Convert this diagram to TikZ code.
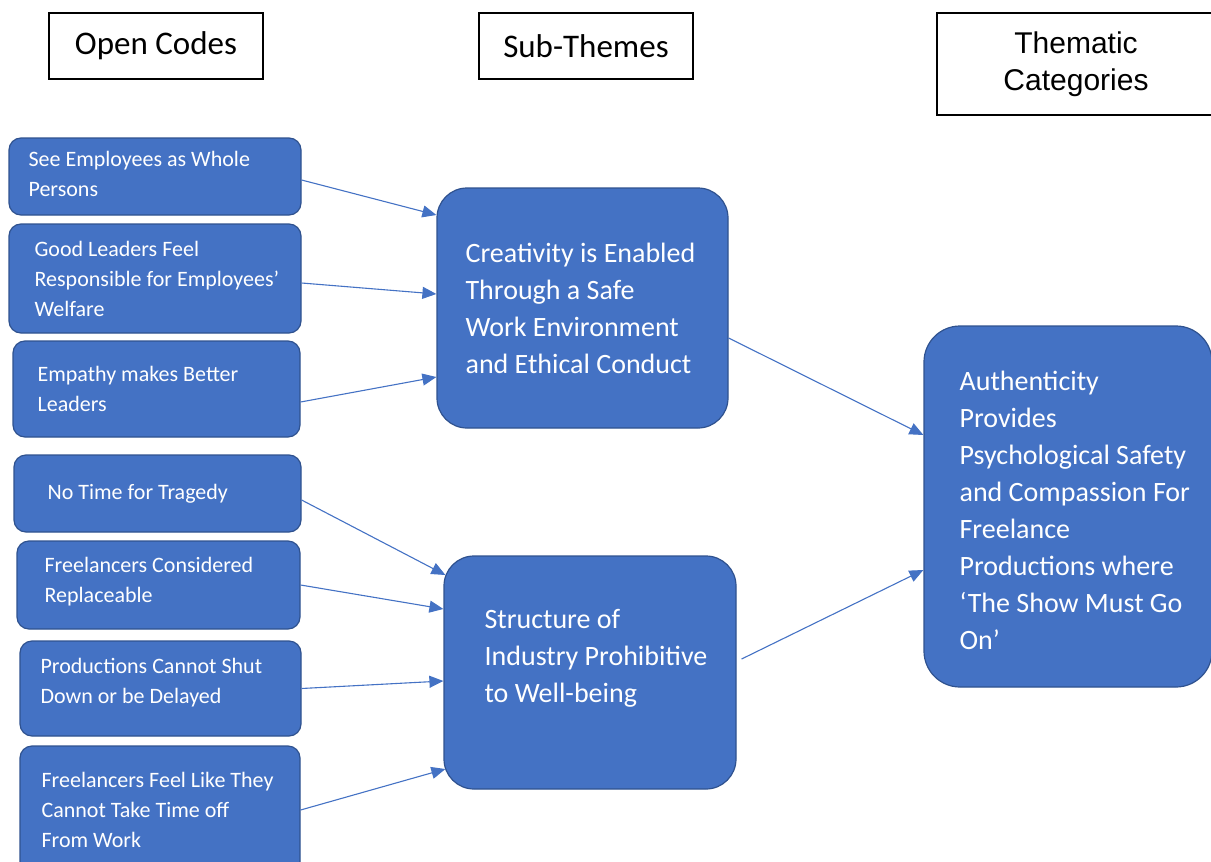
\documentclass[tikz,border=0pt]{standalone}
\usepackage{fontspec}
\setmainfont{Carlito}
\newfontfamily\arialfont{Liberation Sans}
\usetikzlibrary{positioning,arrows.meta}

\definecolor{boxblue}{HTML}{4472C4}
\definecolor{edgeblue}{HTML}{2F528F}

\begin{document}
\begin{tikzpicture}[x=1pt, y=-1pt,
    header/.style={draw=black, line width=1.5pt, fill=white, inner sep=0pt},
    code/.style={draw=edgeblue, line width=1.2pt, fill=boxblue, rounded corners=12pt, inner sep=0pt},
    subtheme/.style={draw=edgeblue, line width=1.2pt, fill=boxblue, rounded corners=30pt, inner sep=0pt},
    theme/.style={draw=edgeblue, line width=1.2pt, fill=boxblue, rounded corners=36pt, inner sep=0pt},
    codetext/.style={anchor=west, align=left, text=white, inner sep=0pt, font=\fontsize{22}{30}\selectfont},
    bigtext/.style={anchor=west, align=left, text=white, inner sep=0pt, font=\fontsize{28}{37}\selectfont},
    link/.style={draw=boxblue, line width=1.1pt, -{Triangle[length=14pt,width=12pt]}}]
    \useasboundingbox (0,0) rectangle (1211,862);

    % Draw the column headers
    \node[header, minimum width=214pt, minimum height=66pt, font=\fontsize{33}{40}\selectfont] (h1) at (156,46) {Open Codes};
    \node[header, minimum width=214pt, minimum height=66pt, font=\fontsize{33}{40}\selectfont] (h2) at (586,46) {Sub-Themes};
    \node[header, minimum width=278pt, minimum height=102pt, align=center, font=\arialfont\fontsize{30}{37}\selectfont] (h3) at (1076,64) {Thematic\\Categories};

    % Draw the open code boxes
    \node[code, minimum width=292pt, minimum height=77pt] (code1) at (155,176.5) {};
    \node[codetext, right=20pt of code1.west, yshift=3pt] (code1t) {See Employees as Whole\\Persons};
    \node[code, minimum width=292pt, minimum height=109pt] (code2) at (155,278.5) {};
    \node[codetext, right=26pt of code2.west] (code2t) {Good Leaders Feel\\Responsible for Employees’\\Welfare};
    \node[code, minimum width=287pt, minimum height=96pt] (code3) at (156.5,389) {};
    \node[codetext, right=25pt of code3.west] (code3t) {Empathy makes Better\\Leaders};
    \node[code, minimum width=287pt, minimum height=77pt] (code4) at (157.5,493.5) {};
    \node[codetext, right=34pt of code4.west] (code4t) {No Time for Tragedy};
    \node[code, minimum width=283pt, minimum height=88pt] (code5) at (158.5,585) {};
    \node[codetext, right=28pt of code5.west, yshift=3pt] (code5t) {Freelancers Considered\\Replaceable};
    \node[code, minimum width=281pt, minimum height=95pt] (code6) at (160.5,688.5) {};
    \node[codetext, right=21pt of code6.west, yshift=6pt] (code6t) {Productions Cannot Shut\\Down or be Delayed};
    \node[code, minimum width=280pt, minimum height=128pt] (code7) at (160,810) {};
    \node[codetext, right=22pt of code7.west] (code7t) {Freelancers Feel Like They\\Cannot Take Time off\\From Work};

    % Draw the sub-theme boxes
    \node[subtheme, minimum width=291pt, minimum height=240pt] (sub1) at (582.5,308) {};
    \node[bigtext, right=29pt of sub1.west] (sub1t) {Creativity is Enabled\\Through a Safe\\Work Environment\\and Ethical Conduct};
    \node[subtheme, minimum width=292pt, minimum height=233pt] (sub2) at (590,672.5) {};
    \node[bigtext, right=41pt of sub2.west, yshift=14pt] (sub2t) {Structure of\\Industry Prohibitive\\to Well-being};

    % Draw the thematic category box
    \node[theme, minimum width=288pt, minimum height=361pt] (theme) at (1068,506.5) {};
    \node[bigtext, right=36pt of theme.west, yshift=-4pt] (themet) {Authenticity\\Provides\\Psychological Safety\\and Compassion For\\Freelance\\Productions where\\‘The Show Must Go\\On’};

    % Draw arrows from open codes to sub-themes
    \draw[link] ([yshift=-3.5pt]code1.east) -- ([yshift=93pt]sub1.west);
    \draw[link] ([yshift=-4.5pt]code2.east) -- ([yshift=14pt]sub1.west);
    \draw[link] ([yshift=-13pt]code3.east) -- ([yshift=-69pt]sub1.west);
    \draw[link] ([yshift=-6.5pt]code4.east) -- ([xshift=2pt,yshift=97.5pt]sub2.west);
    \draw[link] (code5.east) -- ([yshift=63.5pt]sub2.west);
    \draw[link] (code6.east) -- ([yshift=-8.5pt]sub2.west);
    \draw[link] (code7.east) -- ([xshift=2pt,yshift=-96.5pt]sub2.west);

    % Draw arrows from sub-themes to the thematic category
    \draw[link] ([yshift=-30pt]sub1.east) -- ([yshift=71.5pt]theme.west);
    \draw[link] ([xshift=5pt,yshift=13.5pt]sub2.east) -- ([yshift=-63.5pt]theme.west);
\end{tikzpicture}
\end{document}
